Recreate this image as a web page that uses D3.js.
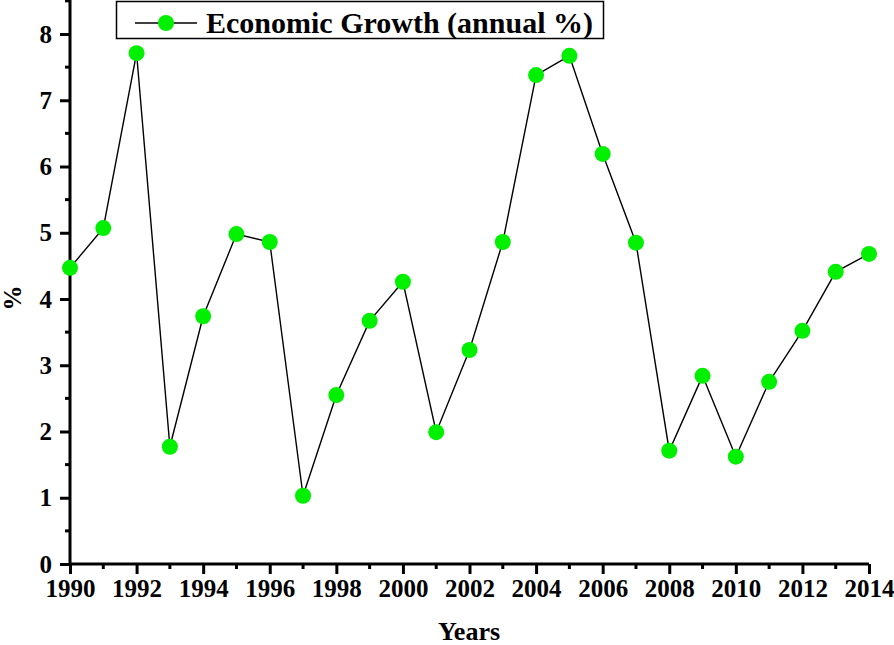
<!DOCTYPE html>
<html>
<head>
<meta charset="utf-8">
<script src="https://cdn.jsdelivr.net/npm/d3@7"></script>
<style>
  body { margin: 0; background: #fff; }
  svg { display: block; font-family: "Liberation Serif", "Times New Roman", serif; font-weight: bold; }
</style>
</head>
<body>
<script>
const width = 894;
const height = 645;

// data
const years = [1990, 1991, 1992, 1993, 1994, 1995, 1996, 1997, 1998, 1999, 2000, 2001,
  2002, 2003, 2004, 2005, 2006, 2007, 2008, 2009, 2010, 2011, 2012, 2013, 2014];
const growth = [4.47, 5.07, 7.71, 1.77, 3.74, 4.98, 4.86, 1.03, 2.55, 3.67, 4.26, 1.99,
  3.23, 4.86, 7.38, 7.67, 6.19, 4.85, 1.71, 2.84, 1.62, 2.75, 3.52, 4.41, 4.68];
const yTicks = [0, 1, 2, 3, 4, 5, 6, 7, 8];
const xTicks = d3.range(1990, 2015, 2);
const seriesName = "Economic Growth (annual %)";

const margin = { left: 70 };

const svg = d3.select("body").append("svg")
    .attr("width", width)
    .attr("height", height);

const x = d3.scaleLinear().domain([1990, 2014]).range([margin.left, 869]);
const y = d3.scaleLinear().domain([0, 8]).range([564, 34]);
const yTop = 0;

// minor ticks
const yMinor = d3.range(0.5, 8.6, 1);
const xMinor = d3.range(1991, 2014, 2);

svg.append("g").selectAll("line").data(yMinor).join("line")
    .attr("x1", margin.left - 5).attr("x2", margin.left)
    .attr("y1", d => y(d)).attr("y2", d => y(d))
    .attr("stroke", "#000").attr("stroke-width", 3);

svg.append("g").selectAll("line").data(xMinor).join("line")
    .attr("x1", d => x(d)).attr("x2", d => x(d))
    .attr("y1", y(0)).attr("y2", y(0) + 5)
    .attr("stroke", "#000").attr("stroke-width", 3);

// y axis
const yAxis = svg.append("g")
    .attr("transform", `translate(${margin.left},0)`)
    .call(d3.axisLeft(y).tickValues(yTicks).tickFormat(d3.format("d")).tickSize(10).tickPadding(8))
    .attr("font-family", null).attr("font-size", 25);
yAxis.select(".domain").attr("d", `M0,${yTop}V${y(0)}`).attr("stroke-width", 3);
yAxis.selectAll(".tick line").attr("stroke-width", 3);
yAxis.selectAll(".tick text").attr("fill", "#000");

// x axis
const xAxis = svg.append("g")
    .attr("transform", `translate(0,${y(0)})`)
    .call(d3.axisBottom(x).tickValues(xTicks).tickFormat(d3.format("d")).tickSize(10).tickPadding(8))
    .attr("font-family", null).attr("font-size", 25);
xAxis.select(".domain").attr("d", `M${margin.left},0H${x(2014)}`).attr("stroke-width", 3);
xAxis.selectAll(".tick line").attr("stroke-width", 3);
xAxis.selectAll(".tick text").attr("fill", "#000").attr("dy", "0.6em");

// axis titles
svg.append("text")
    .attr("x", 469).attr("y", 640)
    .attr("text-anchor", "middle")
    .attr("font-size", 26)
    .text("Years");

svg.append("text")
    .attr("transform", "translate(21,298) rotate(-90)")
    .attr("text-anchor", "middle")
    .attr("font-size", 25)
    .text("%");

// line
const line = d3.line()
    .x((d, i) => x(years[i]))
    .y(d => y(d));

svg.append("path")
    .datum(growth)
    .attr("d", line)
    .attr("fill", "none")
    .attr("stroke", "#000")
    .attr("stroke-width", 1.4);

svg.append("g").selectAll("circle").data(growth).join("circle")
    .attr("cx", (d, i) => x(years[i]))
    .attr("cy", d => y(d))
    .attr("r", 8)
    .attr("fill", "#00f000");

// legend
const legend = svg.append("g");
legend.append("rect")
    .attr("x", 116.5).attr("y", 1.5)
    .attr("width", 487).attr("height", 37)
    .attr("fill", "#fff")
    .attr("stroke", "#000")
    .attr("stroke-width", 1.5);
legend.append("line")
    .attr("x1", 135).attr("x2", 197)
    .attr("y1", 23).attr("y2", 23)
    .attr("stroke", "#000").attr("stroke-width", 1.4);
legend.append("circle")
    .attr("cx", 166).attr("cy", 23).attr("r", 8)
    .attr("fill", "#00f000");
legend.append("text")
    .attr("x", 206).attr("y", 33)
    .attr("font-size", 30)
    .text(seriesName);
</script>
</body>
</html>
